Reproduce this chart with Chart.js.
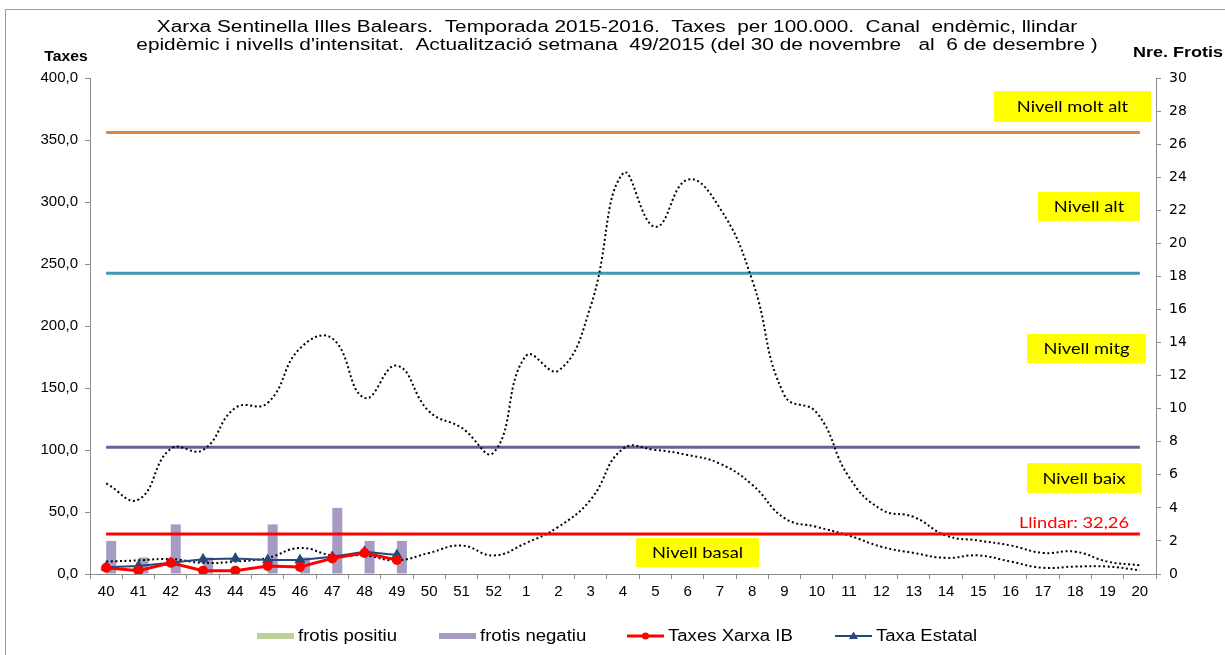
<!DOCTYPE html>
<html lang="ca">
<head>
  <meta charset="UTF-8">
  <title>Canal endèmic</title>
  <style>
    body { margin: 0; background: #fff; }
    .chartBox { position: relative; width: 1225px; height: 655px; }
  </style>
</head>
<body>
  <div class="chartBox">
    <canvas id="myChart"></canvas>
  </div>

  <script src="https://cdn.jsdelivr.net/npm/chart.js"></script>
  <script>
    // setmanes 40/2015 - 20/2016
    const weeks = ['40','41','42','43','44','45','46','47','48','49','50','51','52',
                   '1','2','3','4','5','6','7','8','9','10','11','12','13','14','15','16','17','18','19','20'];

    // frotis (eix dret)
    const frotisPositiu = [0, 0, 0, 0, 0, 0, 0, 0, 0, 0];
    const frotisNegatiu = [2, 1, 3, 1, 0, 3, 1, 4, 2, 2];

    // taxes per 100.000
    const taxesXarxaIB = [5, 2.7, 9, 2.7, 2.7, 6.5, 5.6, 12.6, 17, 11.3];
    const taxaEstatal  = [5.4, 6.5, 9, 11.8, 12.4, 11.3, 11.3, 14, 18, 15.3];

    // canal endèmic
    const canalSuperior = [73, 60, 101, 100, 134, 138, 182, 190, 142, 168, 131, 118, 98,
                           176, 164, 216, 323, 280, 318, 295, 237, 144, 130, 78, 52, 46, 31, 27, 23, 17, 18, 10, 7];
    const canalInferior = [10, 11, 12, 9, 10, 13, 21, 15, 15, 11, 17, 23, 15,
                           25, 38, 60, 101, 100, 96, 89, 72, 45, 38, 31, 22, 17, 13, 15, 10, 5, 6, 6, 3];

    // llindar i nivells d'intensitat
    const llindar = 32.26;
    const nivellMitja = 102.2;
    const nivellAlt = 242.5;
    const nivellMoltAlt = 356;

    const leftTicks = { min: 0, max: 400, step: 50 };
    const rightTicks = { min: 0, max: 30, step: 2 };

    const titol = [
      'Xarxa Sentinella Illes Balears.  Temporada 2015-2016.  Taxes  per 100.000.  Canal  endèmic, llindar',
      "epidèmic i nivells d'intensitat.  Actualització setmana  49/2015 (del 30 de novembre   al  6 de desembre )"
    ];

    const flat = v => weeks.map(() => v);
    const AXIS = '#8c8c8c';

    const flatLine = (label, value, color, width) => ({
      type: 'line', label, data: flat(value), borderColor: color, backgroundColor: color,
      borderWidth: width, pointRadius: 0, tension: 0, yAxisID: 'y'
    });
    const dotted = (label, values) => ({
      type: 'line', label, data: values, borderColor: '#000', borderWidth: 2,
      borderDash: [2, 2.6], pointRadius: 0, tension: 0.45, yAxisID: 'y'
    });

    const data = {
      labels: weeks,
      datasets: [
        { type: 'line', label: 'Taxes Xarxa IB', data: taxesXarxaIB, borderColor: '#ff0000', backgroundColor: '#ff0000',
          borderWidth: 3, pointRadius: 3.5, pointStyle: 'circle', tension: 0, yAxisID: 'y' },
        { type: 'line', label: 'Taxa Estatal', data: taxaEstatal, borderColor: '#24497a', backgroundColor: '#24497a',
          borderWidth: 2, pointRadius: 4.5, pointStyle: 'triangle', tension: 0, yAxisID: 'y' },
        flatLine('Llindar', llindar, '#ff0000', 3),
        dotted('Canal superior', canalSuperior),
        dotted('Canal inferior', canalInferior),
        flatLine('Nivell molt alt', nivellMoltAlt, '#e0843f', 3),
        flatLine('Nivell alt', nivellAlt, '#4198b0', 3),
        flatLine('Nivell mitg', nivellMitja, '#6e5b9a', 3),
        { type: 'bar', label: 'frotis positiu', data: frotisPositiu, backgroundColor: '#bcd19a', yAxisID: 'y1',
          categoryPercentage: 0.62, barPercentage: 1 },
        { type: 'bar', label: 'frotis negatiu', data: frotisNegatiu, backgroundColor: '#a79bc3', yAxisID: 'y1',
          categoryPercentage: 0.62, barPercentage: 1 }
      ]
    };

    // etiquetes grogues, text i llegenda
    const boxes = [
      { text: 'Nivell molt alt', x: 994, y: 91, w: 157, h: 31 },
      { text: 'Nivell alt', x: 1038, y: 192, w: 102, h: 29 },
      { text: 'Nivell mitg', x: 1027, y: 334, w: 119, h: 29 },
      { text: 'Nivell baix', x: 1027, y: 463, w: 114, h: 30 },
      { text: 'Nivell basal', x: 636, y: 538, w: 123, h: 29 }
    ];
    const legendItems = [
      { ds: 8, x: 257, kind: 'box' },
      { ds: 9, x: 439, kind: 'box' },
      { ds: 0, x: 627, kind: 'line' },
      { ds: 1, x: 835, kind: 'line' }
    ];

    // text una mica eixamplat, com a l'original
    function wideText(ctx, text, x, y, sx, align) {
      ctx.save();
      ctx.translate(x, y);
      ctx.scale(sx, 1);
      ctx.textAlign = align;
      ctx.fillText(text, 0, 0);
      ctx.restore();
    }

    const extras = {
      id: 'extras',
      beforeDraw(chart) {
        const ctx = chart.ctx;
        ctx.save();
        ctx.strokeStyle = '#9a9a9a';
        ctx.lineWidth = 1;
        ctx.beginPath();
        ctx.moveTo(5.5, 655); ctx.lineTo(5.5, 9.5); ctx.lineTo(1225, 9.5);
        ctx.stroke();
        ctx.restore();
      },
      afterDraw(chart) {
        const ctx = chart.ctx;
        ctx.save();
        ctx.fillStyle = '#000';
        ctx.textBaseline = 'middle';
        ctx.font = '16px "Liberation Sans", Arial, sans-serif';
        wideText(ctx, titol[0], 617, 28, 1.3, 'center');
        wideText(ctx, titol[1], 617, 46, 1.3, 'center');

        ctx.font = 'bold 15px "Liberation Sans", Arial, sans-serif';
        wideText(ctx, 'Taxes', 66, 57, 1.05, 'center');
        wideText(ctx, 'Nre. Frotis', 1178, 53, 1.2, 'center');

        ctx.font = '15px Lato, "Noto Sans", sans-serif';
        boxes.forEach(b => {
          ctx.fillStyle = '#ffff00';
          ctx.fillRect(b.x, b.y, b.w, b.h);
          ctx.fillStyle = '#000';
          wideText(ctx, b.text, b.x + b.w / 2, b.y + b.h / 2 + 1, 1.22, 'center');
        });

        ctx.fillStyle = '#ff0000';
        wideText(ctx, 'Llindar: 32,26', 1074, 523, 1.22, 'center');

        // llegenda
        const ly = 636;
        ctx.font = '16px "Liberation Sans", Arial, sans-serif';
        legendItems.forEach(it => {
          const ds = chart.data.datasets[it.ds];
          if (it.kind === 'box') {
            ctx.fillStyle = ds.backgroundColor;
            ctx.fillRect(it.x, ly - 3, 37, 6);
          } else {
            ctx.strokeStyle = ds.borderColor;
            ctx.lineWidth = ds.borderWidth;
            ctx.beginPath();
            ctx.moveTo(it.x, ly); ctx.lineTo(it.x + 37, ly);
            ctx.stroke();
            ctx.fillStyle = ds.borderColor;
            const cx = it.x + 18.5;
            ctx.beginPath();
            if (ds.pointStyle === 'triangle') {
              ctx.moveTo(cx, ly - 4.5); ctx.lineTo(cx + 4.5, ly + 3); ctx.lineTo(cx - 4.5, ly + 3);
              ctx.closePath();
            } else {
              ctx.arc(cx, ly, 3.5, 0, Math.PI * 2);
            }
            ctx.fill();
          }
          ctx.fillStyle = '#000';
          wideText(ctx, ds.label, it.x + 41, ly + 1, 1.16, 'left');
        });
        ctx.restore();
      }
    };

    const tickFont = { family: '"Liberation Sans", Arial, sans-serif', size: 15 };

    const config = {
      type: 'bar',
      data,
      options: {
        responsive: true,
        maintainAspectRatio: false,
        animation: false,
        layout: { padding: { top: 78, bottom: 51, left: 0, right: 0 } },
        plugins: { legend: { display: false }, tooltip: { enabled: false } },
        scales: {
          x: {
            grid: { drawOnChartArea: false, tickLength: 5, color: AXIS, offset: true },
            border: { color: AXIS },
            ticks: { color: '#000', font: tickFont, padding: 4, autoSkip: false, maxRotation: 0 },
            afterFit(s) { s.height = 30; }
          },
          y: {
            position: 'left',
            min: leftTicks.min, max: leftTicks.max,
            grid: { drawOnChartArea: false, tickLength: 5, color: AXIS },
            border: { color: AXIS },
            ticks: { stepSize: leftTicks.step, color: '#000', font: tickFont, padding: 7,
                     callback: v => v.toFixed(1).replace('.', ',') },
            afterFit(s) { s.width = 90; }
          },
          y1: {
            position: 'right',
            min: rightTicks.min, max: rightTicks.max,
            grid: { drawOnChartArea: false, tickLength: 5, color: AXIS },
            border: { color: AXIS },
            ticks: { stepSize: rightTicks.step, color: '#000', font: { family: '"DejaVu Sans", sans-serif', size: 14 }, padding: 8 },
            afterFit(s) { s.width = 69; }
          }
        }
      },
      plugins: [extras]
    };

    const myChart = new Chart(document.getElementById('myChart'), config);
  </script>
</body>
</html>
